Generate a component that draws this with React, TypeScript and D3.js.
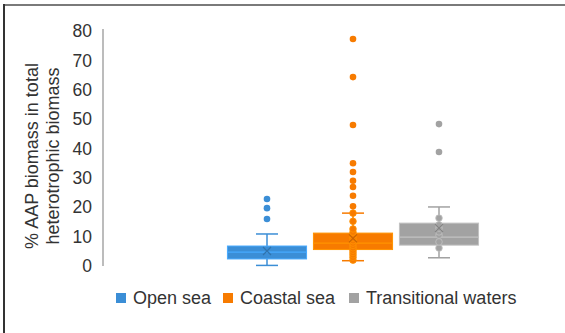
import React from "react";
import * as d3 from "d3";

// values (percent)
const seriesNames = ["Open sea", "Coastal sea", "Transitional waters"];
const seriesColors = ["#3b8ed6", "#f77b00", "#a2a2a2"];
const whiskerLow = [0.2, 1.8, 2.8];
const q1 = [2.4, 5.6, 7.1];
const median = [4.7, 7.8, 9.8];
const q3 = [6.8, 11.2, 14.6];
const whiskerHigh = [10.9, 18, 20.1];
const means = [5.1, 9.4, 12.9];
const outliers = [
  [16, 19.7, 22.8],
  [20.3, 23.9, 26.9, 29, 32, 35, 48, 64.3, 77.3],
  [38.8, 48.3],
];
const innerPoints = [
  [],
  [2, 3, 3.8, 4.6, 5.4, 6.2, 7, 7.8, 8.6, 9.5, 10.5, 11.5, 12.6, 15.2, 18],
  [6.1, 8.2, 10.5, 11.6, 12.9, 14, 16.3],
];
const yTicks = [0, 10, 20, 30, 40, 50, 60, 70, 80];

const W = 565;
const H = 333;

export default function App() {
  const y = d3.scaleLinear().domain([0, 80]).range([266, 31]);
  const x = d3
    .scaleBand<string>()
    .domain(seriesNames)
    .range([224, 482])
    .paddingInner(0.08)
    .paddingOuter(0.04);
  const bw = x.bandwidth();
  const font = "'Liberation Sans', Arial, sans-serif";
  const txt = "#333";

  const legendX = [116, 223, 349];

  return (
    <div style={{ position: "absolute", left: 0, top: 0 }}>
      <svg width={W} height={H} style={{ display: "block", background: "#fff" }}>
        {/* frame (only top and left edges are visible) */}
        <line x1={4} x2={W} y1={5} y2={5} stroke="#7a7a7a" strokeWidth={2} />
        <line x1={4} x2={4} y1={4} y2={H} stroke="#333" strokeWidth={2} />

        {/* y axis */}
        <line x1={103} x2={103} y1={y(80) - 2} y2={y(0)} stroke="#a6a6a6" strokeWidth={1.5} />
        {yTicks.map((t) => (
          <text
            key={t}
            x={92}
            y={y(t)}
            dy="0.35em"
            textAnchor="end"
            fontFamily={font}
            fontSize={17.5}
            fill={txt}
          >
            {t}
          </text>
        ))}
        <text
          transform={`translate(38,156) rotate(-90)`}
          textAnchor="middle"
          fontFamily={font}
          fontSize={18}
          fill={txt}
        >
          <tspan x={0} dy={0}>% AAP biomass in total</tspan>
          <tspan x={0} dy={20.5}>heterotrophic biomass</tspan>
        </text>

        {seriesNames.map((s, i) => {
          const x0 = x(s) as number;
          const cx = x0 + bw / 2;
          const c = seriesColors[i];
          const dark = d3.color(c)!.darker(0.6).formatHex();
          const light = d3.color(c)!.brighter(0.5).formatHex();
          const cap = 11;
          return (
            <g key={s}>
              <line x1={cx} x2={cx} y1={y(whiskerHigh[i])} y2={y(q3[i])} stroke={c} strokeWidth={1.5} />
              <line x1={cx} x2={cx} y1={y(q1[i])} y2={y(whiskerLow[i])} stroke={c} strokeWidth={1.5} />
              <line x1={cx - cap} x2={cx + cap} y1={y(whiskerHigh[i])} y2={y(whiskerHigh[i])} stroke={c} strokeWidth={1.5} />
              <line x1={cx - cap} x2={cx + cap} y1={y(whiskerLow[i])} y2={y(whiskerLow[i])} stroke={c} strokeWidth={1.5} />
              <rect
                x={x0}
                y={y(q3[i])}
                width={bw}
                height={y(q1[i]) - y(q3[i])}
                fill={c}
                stroke={light}
                strokeWidth={1}
              />
              <line x1={x0} x2={x0 + bw} y1={y(median[i])} y2={y(median[i])} stroke={light} strokeWidth={1.2} />
              {innerPoints[i].map((v, k) => (
                <circle key={k} cx={cx} cy={y(v)} r={3.3} fill={c} stroke={light} strokeWidth={0.8} />
              ))}
              <path
                d={`M${cx - 4},${y(means[i]) - 4}L${cx + 4},${y(means[i]) + 4}M${cx - 4},${y(means[i]) + 4}L${cx + 4},${y(means[i]) - 4}`}
                stroke={dark}
                strokeWidth={1.2}
              />
              {outliers[i].map((v, k) => (
                <circle key={k} cx={cx} cy={y(v)} r={3.3} fill={c} />
              ))}
            </g>
          );
        })}

        {/* legend */}
        {seriesNames.map((s, i) => (
          <g key={s} transform={`translate(${legendX[i]},298)`}>
            <rect x={0} y={-5} width={10} height={10} fill={seriesColors[i]} />
            <text x={17} dy="0.35em" fontFamily={font} fontSize={18} fill={txt}>
              {s}
            </text>
          </g>
        ))}
      </svg>
    </div>
  );
}
